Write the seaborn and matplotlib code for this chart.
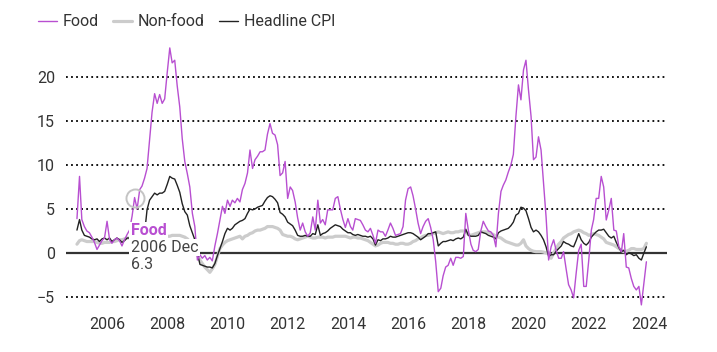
import matplotlib

matplotlib.use("Agg")
import matplotlib.pyplot as plt
import pandas as pd
import seaborn as sns

months = pd.date_range("2005-01-01", periods=228, freq="MS")

food = [
    3.9, 8.7, 3.8, 3.0, 2.5, 2.3, 1.8, 1.2, 0.4, 0.9, 1.4, 1.7,          # 2005
    3.6, 1.5, 1.1, 1.5, 1.7, 1.4, 0.8, 1.5, 2.1, 2.6, 4.2, 6.3,          # 2006
    5.0, 7.2, 7.6, 8.5, 9.6, 12.8, 16.0, 18.1, 17.0, 18.0, 17.0, 17.5,   # 2007
    20.5, 23.3, 21.6, 21.9, 19.0, 16.6, 13.0, 10.4, 9.0, 7.5, 4.5, 3.0,  # 2008
    -0.8, -0.2, -0.6, -0.3, -0.8, -0.5, -0.9, 0.8, 2.2, 3.7, 5.3, 4.5,   # 2009
    6.0, 5.3, 6.0, 5.7, 6.2, 5.8, 7.2, 7.9, 9.1, 11.7, 9.6, 10.6,        # 2010
    11.0, 11.5, 11.5, 11.7, 13.5, 14.7, 13.6, 13.4, 12.3, 8.8, 9.1, 10.4,  # 2011
    6.2, 7.5, 7.1, 5.8, 4.0, 2.6, 3.4, 2.4, 1.9, 2.3, 4.1, 2.6,          # 2012
    6.0, 3.4, 3.8, 3.2, 4.9, 4.9, 4.9, 6.2, 6.4, 5.0, 3.8, 2.9,          # 2013
    3.9, 3.0, 2.6, 3.9, 3.8, 3.7, 3.2, 2.6, 2.4, 2.8, 2.0, 1.1,          # 2014
    2.6, 2.4, 2.4, 1.9, 2.6, 3.4, 2.8, 2.0, 2.1, 2.2, 3.0, 6.0,          # 2015
    7.3, 7.5, 6.5, 5.0, 3.4, 2.2, 3.0, 3.6, 3.9, 2.9, 1.5, -1.0,         # 2016
    -4.4, -4.0, -2.6, -1.6, -1.4, -0.6, -1.4, -0.5, -0.5, -0.6, -0.4, 4.5,  # 2017
    2.6, 1.0, 0.3, 0.15, 0.4, 2.5, 3.6, 3.0, 2.5, 2.4, 2.0, 0.7,         # 2018
    4.5, 7.0, 7.7, 8.3, 9.2, 10.0, 11.2, 15.5, 19.1, 17.4, 20.8, 21.9,   # 2019
    18.5, 15.5, 10.6, 10.9, 13.2, 11.7, 7.9, 4.1, -0.8, 0.7, 1.5, 0.3,   # 2020
    -0.6, -0.6, 0.15, -1.8, -3.6, -4.2, -5.1, -2.3, 0.3, 1.0, -3.8, -3.8,  # 2021
    -0.8, 2.6, 3.8, 6.2, 6.2, 8.7, 7.5, 3.75, 4.9, 6.2, 2.6, 2.5,        # 2022
    0.7, 0.15, 2.2, -1.6, -1.7, -2.9, -3.8, -4.2, -3.8, -5.9, -3.4, -1.0,  # 2023
]

nonfood = [
    1.0, 1.4, 1.5, 1.4, 1.3, 1.3, 1.3, 1.3, 1.2, 1.1, 1.1, 1.2,
    1.2, 1.2, 1.3, 1.3, 1.4, 1.5, 1.5, 1.6, 1.7, 1.7, 1.7, 1.6,
    1.6, 1.6, 1.7, 1.7, 1.7, 1.8, 1.8, 1.8, 1.9, 1.9, 1.9, 1.9,
    1.9, 1.9, 2.0, 2.0, 2.0, 2.0, 1.9, 1.8, 1.6, 1.3, 0.8, 0.3,
    -0.2, -0.8, -1.2, -1.6, -1.9, -2.2, -1.8, -1.3, -0.4, 0.5, 0.9, 1.2,
    1.4, 1.5, 1.6, 1.7, 1.8, 1.9, 1.6, 1.9, 2.0, 2.2, 2.3, 2.5,
    2.6, 2.6, 2.7, 2.8, 3.0, 3.0, 3.0, 2.9, 2.8, 2.6, 2.1, 2.0,
    1.9, 1.9, 1.8, 1.6, 1.5, 1.6, 1.7, 1.8, 1.9, 1.8, 1.7, 1.7,
    1.8, 1.8, 1.8, 1.7, 1.8, 1.8, 1.8, 1.9, 1.9, 1.9, 1.9, 1.9,
    1.8, 1.7, 1.8, 1.8, 1.7, 1.7, 1.6, 1.5, 1.4, 1.2, 1.0, 0.8,
    0.9, 1.1, 1.2, 1.2, 1.2, 1.1, 1.1, 1.0, 1.0, 1.1, 1.1, 1.0,
    1.0, 1.1, 1.3, 1.4, 1.6, 1.7, 1.9, 2.0, 2.0, 2.1, 2.2, 2.3,
    2.4, 2.3, 2.2, 2.3, 2.4, 2.3, 2.3, 2.4, 2.4, 2.5, 2.5, 2.4,
    2.1, 2.0, 2.1, 2.2, 2.3, 2.4, 2.4, 2.4, 2.3, 2.2, 2.1, 1.9,
    1.8, 1.7, 1.5, 1.3, 1.2, 1.1, 1.0, 0.9, 0.9, 1.1, 1.5, 0.8,
    0.5, 0.3, 0.2, 0.15, 0.15, 0.15, 0.1, 0.0, 0.0, -0.6, 0.0, 0.5,
    1.0, 1.3, 1.7, 1.9, 2.1, 2.2, 2.4, 2.5, 2.6, 2.5, 2.3, 2.2,
    2.0, 2.1, 2.2, 2.1, 2.0, 1.8, 1.6, 1.2, 1.1, 1.0, 0.9, 0.7,
    0.5, 0.3, 0.15, 0.2, 0.3, 0.5, 0.5, 0.4, 0.4, 0.4, 0.5, 1.1,
]

headline = [
    2.6, 3.8, 2.6, 2.0, 1.9, 1.8, 1.6, 1.5, 1.6, 1.3, 1.6, 1.7,
    1.5, 1.7, 1.3, 1.5, 1.7, 1.5, 1.2, 1.4, 1.7, 1.7, 1.8, 1.8,
    1.8, 1.7, 1.9, 2.2, 4.9, 6.0, 6.4, 6.8, 6.6, 6.8, 6.8, 7.0,
    7.8, 8.7, 8.5, 8.4, 7.7, 6.9, 5.6, 4.7, 4.3, 3.1, 2.3, 1.5,
    0.0, -1.3, -1.4, -1.5, -1.6, -1.6, -1.7, -1.2, -0.3, 0.5, 1.3, 2.2,
    2.8, 2.6, 2.8, 3.2, 3.4, 3.6, 3.7, 3.9, 4.5, 5.0, 4.9, 5.0,
    5.2, 5.3, 5.4, 5.9, 6.3, 6.5, 6.4, 6.1, 5.7, 4.6, 4.4, 4.1,
    3.5, 3.3, 3.1, 2.6, 2.0, 1.9, 1.9, 2.0, 1.9, 1.9, 2.2, 2.1,
    3.2, 2.0, 2.2, 2.3, 2.5, 2.8, 3.0, 3.2, 3.1, 3.0, 2.7, 2.5,
    2.3, 2.3, 2.1, 2.0, 2.1, 2.0, 1.9, 1.9, 1.8, 1.9, 1.6, 0.9,
    1.5, 1.4, 1.6, 1.6, 1.7, 1.9, 1.8, 1.8, 1.9, 2.0, 2.1, 2.2,
    2.3, 2.3, 2.2, 2.0, 1.8, 1.5, 1.7, 1.9, 2.2, 2.2, 2.3, 2.4,
    0.8, 1.1, 1.3, 1.3, 1.4, 1.5, 1.4, 1.6, 1.7, 1.6, 1.8, 2.7,
    2.0, 1.9, 1.9, 1.9, 2.0, 2.4, 2.3, 2.2, 2.0, 1.9, 1.8, 1.6,
    2.3, 2.5, 2.6, 2.7, 2.8, 3.1, 3.5, 4.3, 4.5, 5.2, 5.1, 4.8,
    3.9, 2.9, 2.4, 2.6, 2.4, 2.0, 1.5, 0.7, -0.4, -0.2, -0.2, 0.2,
    0.5, 0.8, 1.3, 1.1, 1.0, 0.8, 0.7, 1.4, 2.2, 1.5, 1.1, 0.9,
    1.2, 1.8, 2.1, 2.4, 2.6, 2.6, 2.7, 2.3, 1.9, 1.7, 1.9, 1.2,
    0.6, 0.15, 0.3, -0.2, 0.0, -0.1, -0.3, -0.2, -0.6, -0.8, 0.0, 0.7,
]

y_ticks = [-5, 0, 5, 10, 15, 20]
tick_years = list(range(2006, 2025, 2))
note_month = "2006-12-01"

PURPLE = "#b84fd1"
TEXT = "#333333"

df = pd.DataFrame({"month": months, "Food": food, "Non-food": nonfood, "Headline CPI": headline})

sns.set_theme(style="white")
plt.rcParams["font.family"] = ["Roboto", "DejaVu Sans"]

fig = plt.figure(figsize=(7.17, 3.52), dpi=100)
ax = fig.add_axes([66 / 717, 42 / 352, 601 / 717, 270 / 352])

sns.lineplot(data=df, x="month", y="Non-food", color="#cccccc", lw=2.3, ax=ax, zorder=2, label="Non-food")
sns.lineplot(data=df, x="month", y="Headline CPI", color="#222222", lw=1.0, ax=ax, zorder=3, label="Headline CPI")
sns.lineplot(data=df, x="month", y="Food", color=PURPLE, lw=1.0, ax=ax, zorder=4, label="Food")

# dotted gridlines, solid zero line
for v in y_ticks:
    if v == 0:
        ax.axhline(v, color="#333333", lw=1.6, zorder=1.5)
    else:
        ax.axhline(v, color="black", lw=1.3, ls=(0, (1, 1.8)), zorder=0)

ax.set_ylim(-6.48, 24.2)
ax.set_xlim(pd.Timestamp("2004-08-21"), pd.Timestamp("2024-08-07"))
ax.set_yticks(y_ticks)
ax.set_yticklabels([str(v).replace("-", "\u2212") for v in y_ticks])
ax.set_xticks([pd.Timestamp(f"{y}-01-01") for y in tick_years])
ax.set_xticklabels([str(y) for y in tick_years])
ax.tick_params(axis="both", length=0, labelsize=11.5, colors=TEXT)
ax.tick_params(axis="y", pad=8)
ax.tick_params(axis="x", pad=5)
ax.set_xlabel("")
ax.set_ylabel("")
sns.despine(ax=ax, left=True, bottom=True)

# hover-style annotation on the Food series
note_date = pd.Timestamp(note_month)
note_val = food[months.get_loc(note_date)]
ax.plot([note_date], [note_val], marker="o", ms=13, mfc="none", mec="#c4c4c4", mew=1.4, zorder=6)
box = dict(fc="white", ec="none", pad=1)
ax.annotate("Food", xy=(note_date, note_val), xytext=(-4, -33), textcoords="offset pixels",
            ha="left", va="center", fontsize=11.5, fontweight="bold", color=PURPLE, bbox=box, zorder=5)
ax.annotate(f"{note_date.year} {note_date.strftime('%b')}", xy=(note_date, note_val), xytext=(-4, -50),
            textcoords="offset pixels", ha="left", va="center", fontsize=11.5, color="#444444", bbox=box, zorder=5)
ax.annotate(f"{note_val:.1f}", xy=(note_date, note_val), xytext=(-4, -67), textcoords="offset pixels",
            ha="left", va="center", fontsize=11.5, color="#444444", bbox=box, zorder=5)

handles, labels = ax.get_legend_handles_labels()
ax.get_legend().remove()
order = [labels.index(n) for n in ["Food", "Non-food", "Headline CPI"]]
fig.legend([handles[i] for i in order], [labels[i] for i in order], loc="center left",
           bbox_to_anchor=(38 / 717, 1 - 22 / 352), ncol=3, frameon=False, handlelength=1.2,
           handletextpad=0.35, columnspacing=0.9, borderpad=0, borderaxespad=0, fontsize=11.5,
           labelcolor=TEXT)

fig.savefig("out.png", dpi=100)
